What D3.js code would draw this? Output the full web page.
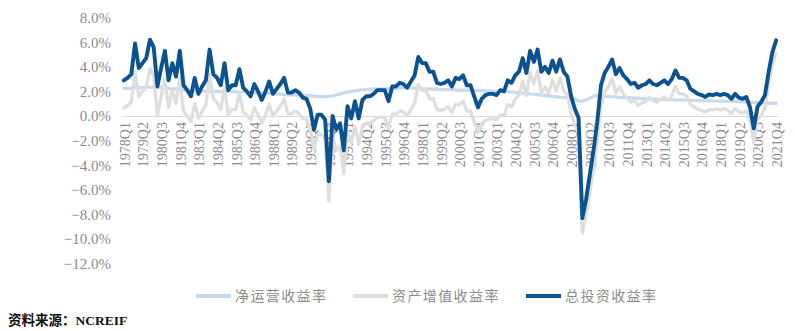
<!DOCTYPE html>
<html><head><meta charset="utf-8">
<script src="https://cdn.jsdelivr.net/npm/d3@7"></script>
<style>
html,body{margin:0;padding:0;background:#fff;}
svg{display:block;}
</style></head>
<body>
<svg id="chart" width="795" height="331"></svg>
<script>
// Quarters 1978Q1 .. 2021Q4
const years = d3.range(1978, 2022);
const quarters = years.flatMap(y => [1,2,3,4].map(q => y + "Q" + q));

const seriesNames = ["净运营收益率", "资产增值收益率", "总投资收益率"];

const incomeReturn = [
 2.25,2.25,2.25,2.3,2.3,2.3,2.35,2.35,2.35,2.35,2.3,2.3,
 2.25,2.2,2.2,2.15,2.1,2.1,2.05,2.05,2.0,2.0,2.0,2.0,
 2.0,2.0,1.98,1.98,1.97,1.97,1.96,1.95,1.95,1.93,1.92,1.9,
 1.9,1.88,1.86,1.85,1.82,1.8,1.77,1.74,1.72,1.71,1.7,1.7,
 1.7,1.68,1.65,1.62,1.6,1.58,1.58,1.6,1.65,1.72,1.8,1.88,
 1.95,2.0,2.05,2.1,2.15,2.17,2.18,2.2,2.2,2.2,2.2,2.2,
 2.25,2.25,2.28,2.28,2.28,2.28,2.25,2.25,2.22,2.2,2.2,2.18,
 2.18,2.15,2.15,2.15,2.12,2.12,2.1,2.1,2.1,2.1,2.08,2.08,
 2.05,2.05,2.03,2.02,2.0,2.0,1.98,1.97,1.95,1.92,1.9,1.86,
 1.84,1.8,1.77,1.74,1.7,1.67,1.64,1.6,1.57,1.54,1.52,1.5,
 1.45,1.35,1.22,1.2,1.3,1.45,1.6,1.68,1.65,1.6,1.6,1.57,
 1.55,1.52,1.5,1.5,1.48,1.45,1.45,1.42,1.4,1.4,1.38,1.37,
 1.35,1.35,1.33,1.32,1.3,1.3,1.3,1.28,1.27,1.26,1.25,1.25,
 1.24,1.23,1.22,1.22,1.21,1.2,1.2,1.2,1.18,1.17,1.16,1.15,
 1.12,1.1,1.1,1.08,1.07,1.05,1.04,1.03
];

const appreciationReturn = [
 0.65,0.85,1.15,3.6,1.6,2.0,2.35,3.85,3.25,0.05,1.6,3.0,
 0.65,2.1,1.0,3.15,0.4,0.0,-0.45,1.05,-0.2,0.4,0.9,3.4,
 1.4,1.1,0.52,2.32,0.13,0.53,0.54,1.85,0.35,0.07,-0.32,0.7,
 0.1,-0.58,0.14,0.95,-0.02,0.4,0.83,1.36,0.18,0.19,0.4,0.2,
 -0.2,-0.28,-1.05,-2.72,-1.5,-1.48,-1.88,-6.9,-1.65,-2.82,-2.4,-4.68,
 -1.15,-2.2,-0.85,-2.3,-0.85,-0.57,-0.58,-0.4,-0.1,-0.1,-0.1,-1.0,
 0.15,0.15,0.42,0.32,0.02,0.52,1.05,2.55,2.08,2.1,1.4,1.42,
 0.52,0.45,0.55,0.75,0.28,0.98,0.9,1.2,0.4,0.4,-0.48,-1.38,
 -0.65,-0.35,-0.23,-0.22,-0.3,0.1,0.02,0.93,0.75,1.38,1.7,2.84,
 1.66,3.5,2.63,3.66,1.9,2.33,1.86,2.9,2.03,3.06,2.08,1.7,
 0.15,-0.79,-1.39,-9.5,-8.1,-6.25,-4.4,-2.18,0.85,1.9,2.4,3.03,
 1.85,2.38,1.8,1.5,1.12,1.25,0.85,1.08,1.2,1.5,1.22,1.13,
 1.35,1.55,1.27,1.68,2.4,1.8,1.8,1.62,0.93,0.74,0.55,0.45,
 0.31,0.52,0.48,0.58,0.49,0.6,0.5,0.2,0.62,0.33,0.24,0.4,
 -0.42,-2.1,-0.35,0.07,0.63,2.55,4.16,5.12
];

const totalReturn = [
 2.9,3.1,3.4,5.9,3.9,4.3,4.7,6.2,5.6,2.4,3.9,5.3,
 2.9,4.3,3.2,5.3,2.5,2.1,1.6,3.1,1.8,2.4,2.9,5.4,
 3.4,3.1,2.5,4.3,2.1,2.5,2.5,3.8,2.3,2.0,1.6,2.6,
 2.0,1.3,2.0,2.8,1.8,2.2,2.6,3.1,1.9,1.9,2.1,1.9,
 1.5,1.4,0.6,-1.1,0.1,0.1,-0.3,-5.3,0.0,-1.1,-0.6,-2.8,
 0.8,-0.2,1.2,-0.2,1.3,1.6,1.6,1.8,2.1,2.1,2.1,1.2,
 2.4,2.4,2.7,2.6,2.3,2.8,3.3,4.8,4.3,4.3,3.6,3.6,
 2.7,2.6,2.7,2.9,2.4,3.1,3.0,3.3,2.5,2.5,1.6,0.7,
 1.4,1.7,1.8,1.8,1.7,2.1,2.0,2.9,2.7,3.3,3.6,4.7,
 3.5,5.3,4.4,5.4,3.6,4.0,3.5,4.5,3.6,4.6,3.6,3.2,
 1.6,0.56,-0.17,-8.3,-6.8,-4.8,-2.8,-0.5,2.5,3.5,4.0,4.6,
 3.4,3.9,3.3,3.0,2.6,2.7,2.3,2.5,2.6,2.9,2.6,2.5,
 2.7,2.9,2.6,3.0,3.7,3.1,3.1,2.9,2.2,2.0,1.8,1.7,
 1.55,1.75,1.7,1.8,1.7,1.8,1.7,1.4,1.8,1.5,1.4,1.55,
 0.7,-1.0,0.75,1.15,1.7,3.6,5.2,6.15
];

const yTicks = [8, 6, 4, 2, 0, -2, -4, -6, -8, -10, -12];
const xTickLabels = quarters.filter((d, i) => i % 5 === 0);
const sourceText = "资料来源：NCREIF";

const colors = ["#c5daee", "#dedede", "#0d5290"];
const widths = [3.2, 3.2, 3.9];
const seriesData = [incomeReturn, appreciationReturn, totalReturn];

const svg = d3.select("#chart");

const x = d3.scaleBand().domain(quarters).range([122, 778]).padding(0);
const y = d3.scaleLinear().domain([-12, 8]).range([263.6, 17.6]);
const cx = d => x(d) + x.bandwidth() / 2;

// zero axis
const xAxis = d3.axisBottom(x).tickValues(xTickLabels).tickSize(0).tickPadding(0);
const gx = svg.append("g").attr("transform", `translate(0,${y(0)})`).call(xAxis);
gx.select(".domain").attr("stroke", "#d9d9d9").attr("stroke-width", 1.2);
gx.selectAll("text")
  .attr("transform", "rotate(-90)")
  .attr("text-anchor", "end")
  .attr("x", -6)
  .attr("y", 0)
  .attr("dy", "0.42em")
  .attr("font-family", "'Liberation Serif', serif")
  .attr("font-size", 14)
  .attr("fill", "#8c8c8c");

// y axis labels
const fmt = v => (v < 0 ? "\u2212" : "") + Math.abs(v).toFixed(1) + "%";
const yAxis = d3.axisLeft(y).tickValues(yTicks).tickFormat(fmt).tickSize(0).tickPadding(0);
const gy = svg.append("g").attr("transform", "translate(111,0)").call(yAxis);
gy.select(".domain").remove();
gy.selectAll("text")
  .attr("font-family", "'Liberation Serif', serif")
  .attr("font-size", 15)
  .attr("fill", "#8c8c8c");

// lines
const line = d3.line()
  .x((d, i) => cx(quarters[i]))
  .y(d => y(d))
  .curve(d3.curveLinear);

seriesData.forEach((s, k) => {
  svg.append("path")
    .datum(s)
    .attr("fill", "none")
    .attr("stroke", colors[k])
    .attr("stroke-width", widths[k])
    .attr("stroke-linejoin", "round")
    .attr("stroke-linecap", "round")
    .attr("d", line);
});

// legend
const legendX = [196, 353, 526];
const lg = svg.append("g");
seriesNames.forEach((n, k) => {
  lg.append("line")
    .attr("x1", legendX[k]).attr("x2", legendX[k] + 35)
    .attr("y1", 296).attr("y2", 296)
    .attr("stroke", colors[k]).attr("stroke-width", 4);
  lg.append("text")
    .attr("x", legendX[k] + 39).attr("y", 301)
    .attr("font-family", "'Noto Sans CJK SC', sans-serif")
    .attr("font-size", 14)
    .attr("letter-spacing", 1.4)
    .attr("fill", "#8c8c8c")
    .text(n);
});

// source
svg.append("text")
  .attr("x", 8).attr("y", 325)
  .attr("font-family", "'Liberation Serif', 'Noto Sans CJK SC', serif")
  .attr("font-size", 13.5)
  .attr("font-weight", "bold")
  .attr("fill", "#111")
  .text(sourceText);
</script>
</body></html>
